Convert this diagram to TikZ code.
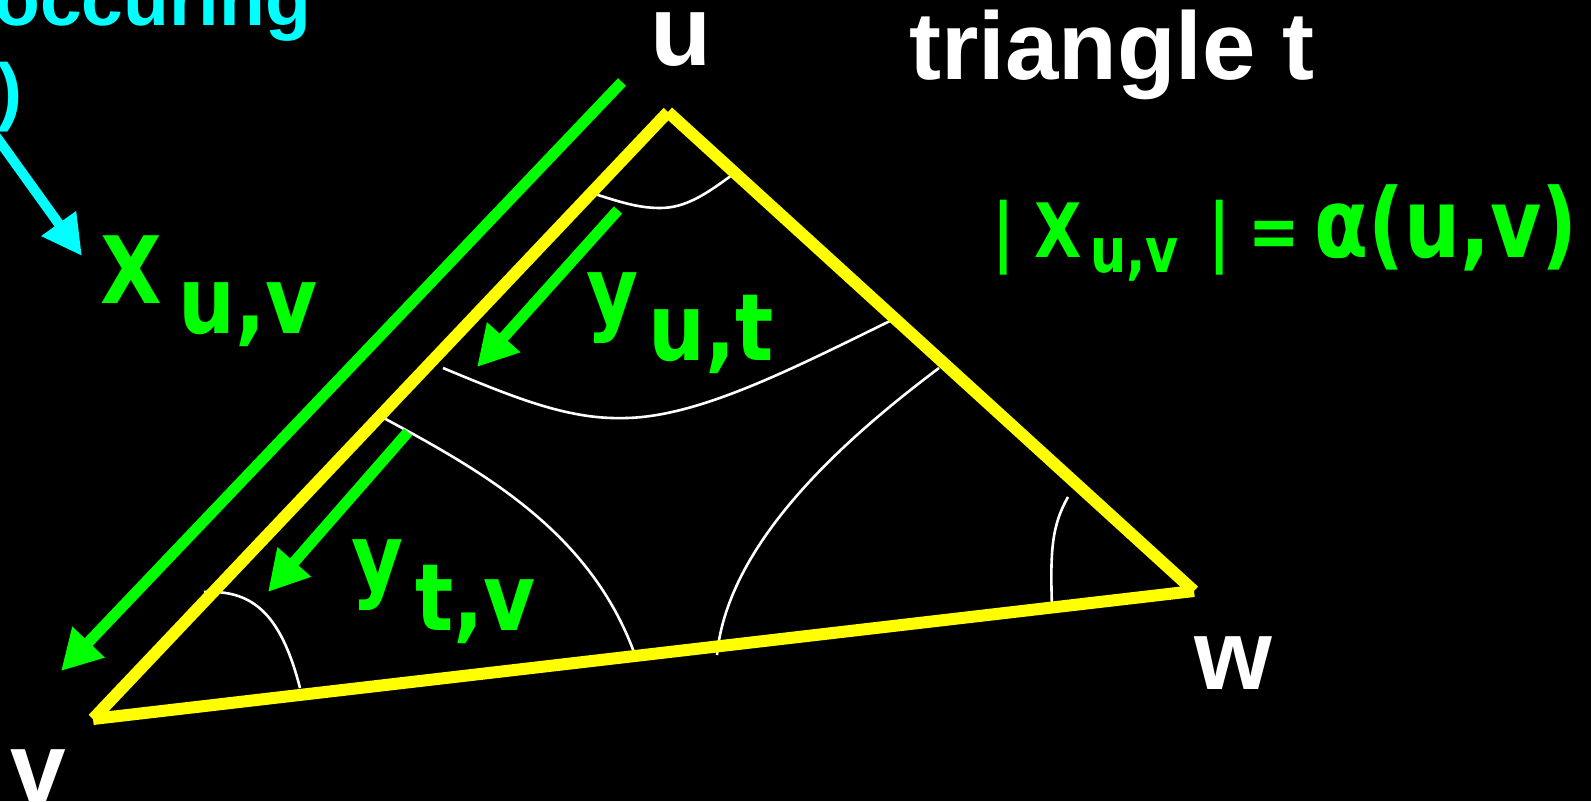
\documentclass[tikz,border=0pt]{standalone}
\usepackage{fontspec}
\setmainfont{Liberation Sans}
\newfontfamily\gfont{DejaVu Sans}[FakeStretch=0.86]
\newfontfamily\gfontc{DejaVu Sans}[FakeStretch=0.82]
\usetikzlibrary{arrows.meta}
\definecolor{tyellow}{RGB}{255,255,0}
\definecolor{tgreen}{RGB}{0,255,0}
\definecolor{tcyan}{RGB}{0,255,255}
\begin{document}
\begin{tikzpicture}[x=1pt,y=-1pt,
  edge/.style={tyellow,line width=12pt},
  garrow/.style={tgreen,line width=11pt,-{Triangle[length=40pt,width=42pt]}},
  carrow/.style={tcyan,line width=10pt,-{Triangle[length=40pt,width=40pt]}},
  curve/.style={white,line width=2.6pt},
  wlab/.style={white,inner sep=0pt,anchor=base,font=\fontsize{100pt}{100pt}\selectfont\bfseries},
  glab/.style={tgreen,inner sep=0pt,anchor=base west,font=\gfont\bfseries\fontsize{93pt}{93pt}\selectfont},
  clab/.style={tcyan,inner sep=0pt,anchor=base west,font=\fontsize{75pt}{75pt}\selectfont\bfseries},
]
\useasboundingbox (0,0) rectangle (1591,801);
\fill[black] (0,0) rectangle (1591,801);

% triangle vertices
\coordinate (u) at (668,112);
\coordinate (v) at (93,719);
\coordinate (w) at (1194,591);

% white curves
\coordinate (c1a) at (588,192); \coordinate (c1m) at (660,208); \coordinate (c1b) at (732,175);
\draw[curve] (c1a) .. controls (615,200) and (635,208) .. (c1m) .. controls (685,208) and (705,195) .. (c1b);
\coordinate (c2a) at (443,368); \coordinate (c2m) at (627,418); \coordinate (c2b) at (892,320);
\draw[curve] (c2a) .. controls (520,400) and (570,420) .. (c2m) .. controls (700,416) and (790,370) .. (c2b);
\coordinate (c3a) at (380,416); \coordinate (c3b) at (635,655);
\draw[curve] (c3a) .. controls (480,470) and (590,530) .. (c3b);
\coordinate (c4a) at (939,368); \coordinate (c4b) at (717,655);
\draw[curve] (c4a) .. controls (850,435) and (728,540) .. (c4b);
\coordinate (c5a) at (204,592); \coordinate (c5b) at (300,688);
\draw[curve] (c5a) .. controls (250,590) and (280,610) .. (c5b);
\coordinate (c6a) at (1068,497); \coordinate (c6b) at (1052,607);
\draw[curve] (c6a) .. controls (1052,525) and (1050,550) .. (c6b);

% yellow triangle
\draw[edge] (u) -- (v);
\draw[edge] (u) -- (w);
\draw[edge] (v) -- (w);

% green arrows
\coordinate (g1s) at (622,82);  \coordinate (g1e) at (61,671);
\coordinate (g2s) at (618,210); \coordinate (g2e) at (477,367);
\coordinate (g3s) at (408,432); \coordinate (g3e) at (268,592);
\draw[garrow] (g1s) -- (g1e);
\draw[garrow] (g2s) -- (g2e);
\draw[garrow] (g3s) -- (g3e);

% cyan arrow
\coordinate (cs) at (-10,128); \coordinate (ce) at (82,256);
\draw[carrow] (cs) -- (ce);

% cyan text
\node[clab] (occ) at (-6,25) {occuring};
\node[clab] (par) at (-3,116) {)};

% white labels
\node[wlab] (lu) at (681,65) {u};
\node[wlab] (lv) at (38,802) {v};
\node[wlab] (lw) at (1233,689) {w};
\node[white,inner sep=0pt,anchor=base west,font=\fontsize{96pt}{96pt}\selectfont\bfseries] (title) at (909,79) {triangle t};

% green labels
\node[glab] (xuv) at (100,303) {\makebox[78pt][l]{X}\raisebox{-30pt}{u,v}};
\node[glab] (yut) at (586,323) {\makebox[62pt][l]{y}\raisebox{-37pt}{u,t}};
\node[glab] (ytv) at (351,590) {\makebox[64pt][l]{y}\raisebox{-40pt}{t,v}};
\node[tgreen,inner sep=0pt,anchor=base west,font=\gfontc\bfseries\fontsize{75pt}{75pt}\selectfont] (form) at (992,257)
  {\makebox[42pt][l]{|}\makebox[56pt][l]{X}\raisebox{-15pt}{\makebox[118pt][l]{\fontsize{62pt}{62pt}\selectfont u,v}}\makebox[40pt][l]{|}\makebox[66pt][l]{=}{\fontsize{96pt}{96pt}\selectfont α(u,v)}};
\end{tikzpicture}
\end{document}
